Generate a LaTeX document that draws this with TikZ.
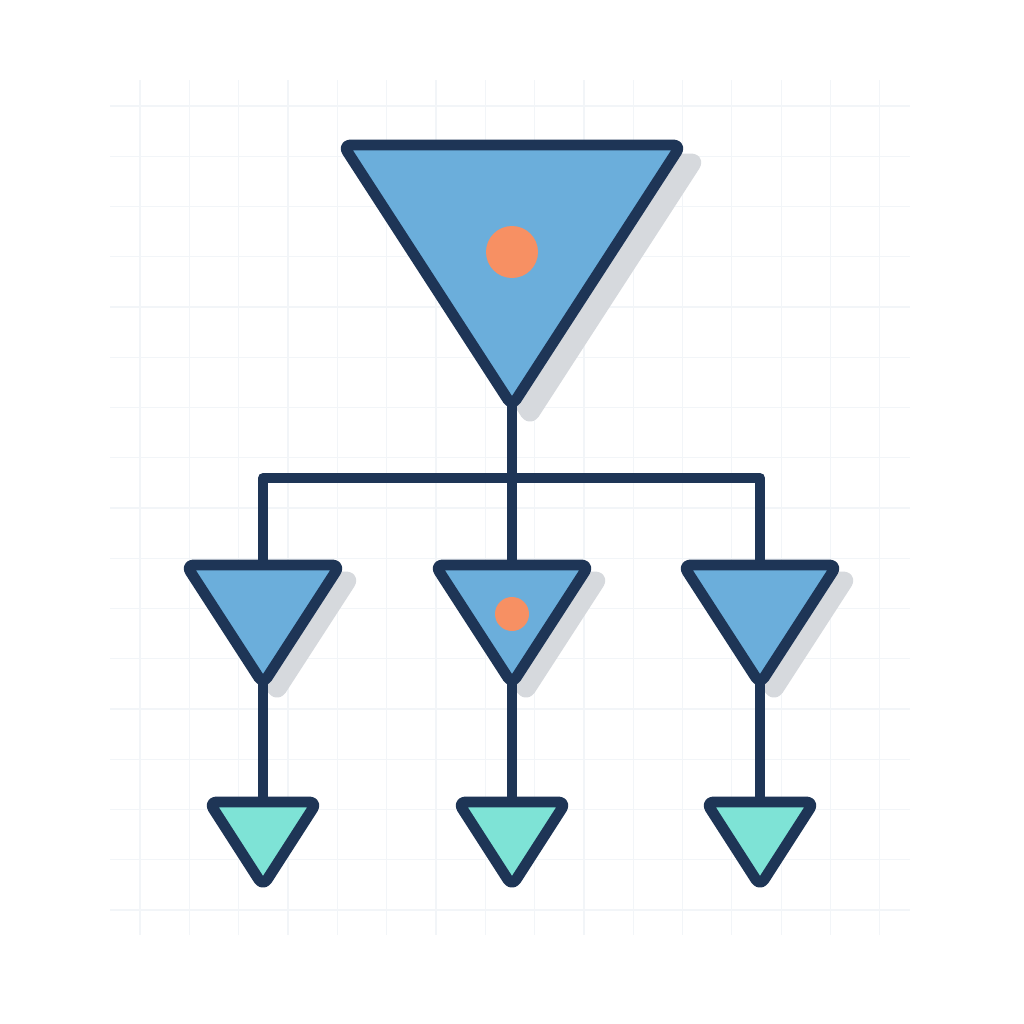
\documentclass[tikz,border=0pt]{standalone}
\usetikzlibrary{calc}
\definecolor{navy}{HTML}{1E3556}
\definecolor{blu}{HTML}{6BAEDB}
\definecolor{teal2}{HTML}{7EE3D6}
\definecolor{orng}{HTML}{F79063}
\definecolor{shad}{HTML}{D6D9DD}
\definecolor{gridc}{HTML}{F2F5F8}
\tikzset{
  px/.style={x=0.01cm,y=-0.01cm},
  outline/.style={draw=navy,line width=3.1pt,line join=round,rounded corners=2.2pt},
  shadowtri/.style={fill=shad,draw=shad,line width=3.1pt,line join=round,rounded corners=2.2pt},
  wire/.style={draw=navy,line width=2.9pt,line join=round},
  gridline/.style={draw=gridc,line width=0.3pt},
  dot/.style={fill=orng}
}
\begin{document}
\begin{tikzpicture}[px]
\useasboundingbox (0,0) rectangle (1024,1024);
\fill[white] (0,0) rectangle (1024,1024);
% faint grid
\foreach \i in {0,...,15} {
  \draw[gridline] ({140+\i*49.33},80) -- ({140+\i*49.33},935);
}
\foreach \j in {0,...,16} {
  \draw[gridline] (110,{106+\j*50.25}) -- (910,{106+\j*50.25});
}
% key points
\coordinate (TL) at (343,145);
\coordinate (TR) at (681,145);
\coordinate (Tb) at (512,406);
\coordinate (J) at (512,478);
\foreach \n/\cx in {L/263,M/512,R/760} {
  \coordinate (\n t) at (\cx,565);
  \coordinate (\n l) at (\cx-77,565);
  \coordinate (\n r) at (\cx+77,565);
  \coordinate (\n b) at (\cx,684);
  \coordinate (\n s) at (\cx,802);
  \coordinate (\n sl) at (\cx-54,802);
  \coordinate (\n sr) at (\cx+54,802);
  \coordinate (\n sb) at (\cx,886);
}
% shadows
\path[shadowtri] ($(TL)+(18,14)$) -- ($(TR)+(18,14)$) -- ($(Tb)+(18,14)$) -- cycle;
\foreach \n in {L,M,R} {
  \path[shadowtri] ($(\n l)+(14,12)$) -- ($(\n r)+(14,12)$) -- ($(\n b)+(14,12)$) -- cycle;
}
% connectors
\draw[wire] (Tb) -- (Mt);
\draw[wire] (Lt) |- (J) -| (Rt);
\foreach \n in {L,M,R} {
  \draw[wire] (\n b) -- (\n s);
}
% top triangle
\path[outline,fill=blu] (TL) -- (TR) -- (Tb) -- cycle;
\fill[dot] (512,252) circle (26);
% mid triangles
\foreach \n in {L,M,R} {
  \path[outline,fill=blu] (\n l) -- (\n r) -- (\n b) -- cycle;
}
\fill[dot] (512,614) circle (17);
% bottom triangles
\foreach \n in {L,M,R} {
  \path[outline,fill=teal2] (\n sl) -- (\n sr) -- (\n sb) -- cycle;
}
\end{tikzpicture}
\end{document}
